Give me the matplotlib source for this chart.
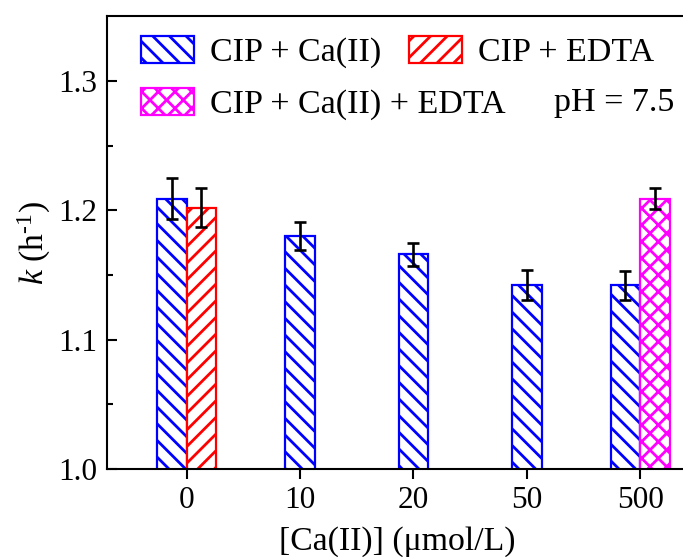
import matplotlib
matplotlib.use("Agg")
import matplotlib.pyplot as plt
import numpy as np

plt.rcParams["font.family"] = ["Liberation Serif", "DejaVu Serif"]
plt.rcParams["mathtext.fontset"] = "custom"
plt.rcParams["mathtext.rm"] = "Liberation Serif"
plt.rcParams["mathtext.it"] = "Liberation Serif:italic"
plt.rcParams["hatch.linewidth"] = 2.0

categories = ["0", "10", "20", "50", "500"]
ca_vals = [1.209, 1.180, 1.166, 1.142, 1.142]
ca_errs = [0.016, 0.011, 0.009, 0.0115, 0.011]
edta_vals = [1.202]
edta_errs = [0.015]
mix_vals = [1.209]
mix_errs = [0.008]

x = np.arange(len(categories))
w = 0.26
# paired groups at 0 and 500, single bars centred on the tick
ca_x = x.astype(float).copy()
ca_x[0] -= w / 2
ca_x[-1] -= w / 2
edta_x = [x[0] + w / 2]
mix_x = [x[-1] + w / 2]

fig = plt.figure(figsize=(6.83, 5.57), dpi=100)
ax = fig.add_axes([0.157, 0.158, 0.85, 0.813])

err_kw = dict(ecolor="black", elinewidth=1.9, capsize=4.2, capthick=1.9)
b1 = ax.bar(ca_x, ca_vals, w, yerr=ca_errs, color="white",
            edgecolor="#0000FF", linewidth=1.6, hatch="\\\\",
            label="CIP + Ca(II)", error_kw=err_kw, zorder=2)
b2 = ax.bar(edta_x, edta_vals, w, yerr=edta_errs, color="white",
            edgecolor="#FF0000", linewidth=1.6, hatch="//",
            label="CIP + EDTA", error_kw=err_kw, zorder=2)
b3 = ax.bar(mix_x, mix_vals, w, yerr=mix_errs, color="white",
            edgecolor="#FF00FF", linewidth=1.6, hatch="xx",
            label="CIP + Ca(II) + EDTA", error_kw=err_kw, zorder=2)

ax.set_xlim(-0.70, 4.42)
ax.set_ylim(1.0, 1.35)
ax.set_yticks([1.0, 1.1, 1.2, 1.3])
ax.set_yticks([1.05, 1.15, 1.25], minor=True)
ax.set_xticks(x)
ax.set_xticklabels(categories)

for s in ax.spines.values():
    s.set_linewidth(1.5)
ax.tick_params(axis="x", direction="out", length=7, width=1.5,
               labelsize=22.5, pad=5)
ax.tick_params(axis="y", which="major", direction="in", length=7,
               width=1.5, labelsize=22.5, pad=7)
ax.tick_params(axis="y", which="minor", direction="in", length=4.5,
               width=1.5)

ax.set_xlabel("[Ca(II)] (\u03bcmol/L)", fontsize=24.3, labelpad=8)
ax.set_ylabel(r"$k$ (h$^{\text{-1}}$)", fontsize=24.3, labelpad=4)

leg_kw = dict(loc="upper left", frameon=False, fontsize=24.5,
              handlelength=1.56, handleheight=0.82, handletextpad=0.47,
              columnspacing=0.82, borderpad=0, borderaxespad=0)
leg1 = ax.legend([b1, b2], ["CIP + Ca(II)", "CIP + EDTA"], ncol=2,
                 bbox_to_anchor=(0.058, 0.956), **leg_kw)
ax.add_artist(leg1)
ax.legend([b3], ["CIP + Ca(II) + EDTA"], bbox_to_anchor=(0.058, 0.841),
          **leg_kw)
ax.text(0.977, 0.79, "pH = 7.5", transform=ax.transAxes, ha="right",
        va="baseline", fontsize=24.5)

fig.savefig("out.png", dpi=100)
